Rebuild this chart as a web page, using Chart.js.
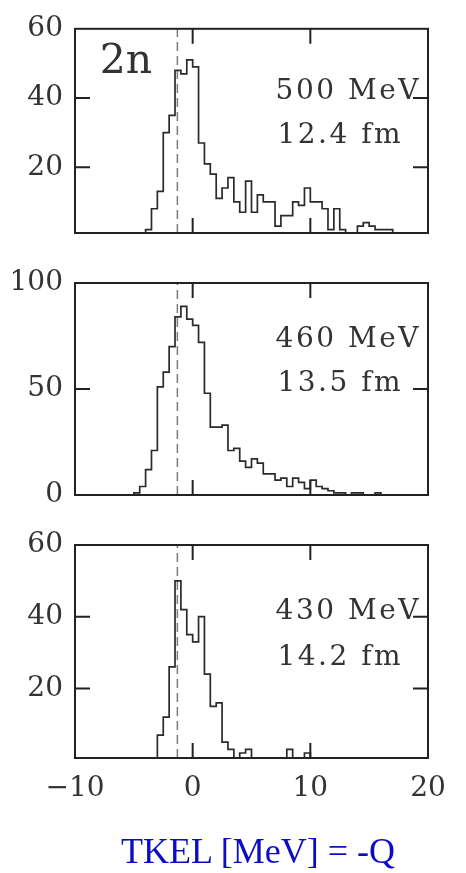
<!DOCTYPE html>
<html>
<head>
<meta charset="utf-8">
<script src="https://cdn.jsdelivr.net/npm/chart.js@4.4.1/dist/chart.umd.min.js"></script>
<style>
  html, body { margin: 0; padding: 0; background: #fff; }
  #wrap { position: relative; width: 466px; height: 873px; overflow: hidden; }
  #wrap canvas { position: absolute; left: 0; top: 0; }
  #xtitle {
    position: absolute; top: 833px; left: 258px; transform: translateX(-50%);
    white-space: nowrap; font: 36px/36px "Liberation Serif", serif; color: #0c0cc8;
  }
</style>
</head>
<body>
<div id="wrap">
  <canvas id="c500" width="466" height="873"></canvas>
  <canvas id="c460" width="466" height="873"></canvas>
  <canvas id="c430" width="466" height="873"></canvas>
  <div id="xtitle">TKEL [MeV] = -Q</div>
</div>
<script>
// TKEL histograms, 0.5 MeV bins
const binWidth = 0.5;
const xTicks = [-10, 0, 10, 20];
const refLineAt = -1.3;

// 500 MeV, 12.4 fm
const start500 = -4;
const counts500 = [2, 8, 13, 30, 35, 48, 47, 51, 49, 27, 21, 18, 11, 14, 17, 10, 7, 16, 7, 12,
                   10, 10, 3, 6, 6, 10, 9, 14, 10, 10, 8, 2, 8, 2, 0, 0, 3, 4, 3, 2, 2, 2];
const yTicks500 = [20, 40, 60];
const text500 = ['2n', '500 MeV', '12.4 fm'];

// 460 MeV, 13.5 fm
const start460 = -5;
const counts460 = [1, 4, 12, 21, 51, 58, 70, 84, 89, 83, 80, 72, 48, 32, 32, 33, 21, 22, 16, 13,
                   17, 15, 10, 10, 7, 8, 4, 8, 6, 3, 7, 4, 3, 2, 1, 1, 0, 1, 1, 0, 0, 1];
const yTicks460 = [0, 50, 100];
const text460 = ['460 MeV', '13.5 fm'];

// 430 MeV, 14.2 fm
const start430 = -3;
const counts430 = [7, 12, 26, 50, 42, 35, 33, 40, 24, 15, 16, 5, 3, 0, 2, 3, 0, 0, 0, 0,
                   0, 0, 3, 0, 0, 2];
const yTicks430 = [20, 40, 60];
const text430 = ['430 MeV', '14.2 fm'];

const H = 873;
const serif = '"DejaVu Serif", serif';
const ink = '#333';

function histPoints(start, counts) {
  const pts = [{ x: start, y: 0 }];
  counts.forEach((c, i) => {
    const lo = start + i * binWidth;
    pts.push({ x: lo, y: c }, { x: lo + binWidth, y: c });
  });
  pts.push({ x: start + counts.length * binWidth, y: 0 });
  return pts;
}

// box around the plot, inward ticks on all four sides, and the text labels
const frame = {
  id: 'frame',
  afterDatasetsDraw(chart, args, opts) {
    const { ctx, chartArea: a, scales: { x, y } } = chart;
    const len = 15;
    ctx.save();
    ctx.strokeStyle = '#222';
    ctx.lineWidth = 2;
    ctx.strokeRect(a.left, a.top, a.width, a.height);
    ctx.beginPath();
    x.ticks.forEach(t => {
      const px = x.getPixelForValue(t.value);
      if (px <= a.left + 1 || px >= a.right - 1) return;
      ctx.moveTo(px, a.bottom); ctx.lineTo(px, a.bottom - len);
      ctx.moveTo(px, a.top); ctx.lineTo(px, a.top + len);
    });
    y.ticks.forEach(t => {
      const py = y.getPixelForValue(t.value);
      if (py <= a.top + 1 || py >= a.bottom - 1) return;
      ctx.moveTo(a.left, py); ctx.lineTo(a.left + len, py);
      ctx.moveTo(a.right, py); ctx.lineTo(a.right - len, py);
    });
    ctx.stroke();

    ctx.fillStyle = ink;
    ctx.textAlign = 'left';
    ctx.textBaseline = 'alphabetic';
    (opts.notes || []).forEach(n => {
      ctx.font = n.size + 'px ' + serif;
      ctx.letterSpacing = (n.spacing || 0) + 'px';
      ctx.fillText(n.text, x.getPixelForValue(n.x), y.getPixelForValue(n.y));
    });
    ctx.letterSpacing = '0px';
    ctx.restore();
  }
};

const panels = [
  { id: 'c500', top: 22, bottom: 233, yMin: 1, yMax: 60, yTicks: yTicks500,
    start: start500, counts: counts500, showX: false,
    notes: [
      { text: text500[0], x: -7.9, y: 47.2, size: 41 },
      { text: text500[1], x: 7.05, y: 39.6, size: 28, spacing: 2.5 },
      { text: text500[2], x: 7.2, y: 27.0, size: 28, spacing: 2.5 }
    ] },
  { id: 'c460', top: 283, bottom: 495, yMin: 0, yMax: 100, yTicks: yTicks460,
    start: start460, counts: counts460, showX: false,
    notes: [
      { text: text460[0], x: 7.05, y: 69.7, size: 28, spacing: 2.5 },
      { text: text460[1], x: 7.2, y: 49.1, size: 28, spacing: 2.5 }
    ] },
  { id: 'c430', top: 545, bottom: 758, yMin: 0.6, yMax: 60, yTicks: yTicks430,
    start: start430, counts: counts430, showX: true,
    notes: [
      { text: text430[0], x: 7.05, y: 39.3, size: 28, spacing: 2.5 },
      { text: text430[1], x: 7.2, y: 26.5, size: 28, spacing: 2.5 }
    ] }
];

panels.forEach(p => {
  new Chart(document.getElementById(p.id), {
    type: 'line',
    data: {
      datasets: [
        {
          data: histPoints(p.start, p.counts),
          borderColor: '#2a2a2a',
          borderWidth: 1.7,
          pointRadius: 0,
          tension: 0,
          fill: false
        },
        {
          data: [{ x: refLineAt, y: p.yMin }, { x: refLineAt, y: p.yMax }],
          borderColor: '#7c7c7c',
          borderWidth: 1.5,
          borderDash: [9, 5],
          pointRadius: 0,
          fill: false
        }
      ]
    },
    options: {
      responsive: false,
      animation: false,
      events: [],
      layout: { padding: { left: 0, right: 38, top: p.top, bottom: 0 } },
      plugins: {
        legend: { display: false },
        tooltip: { enabled: false },
        frame: { notes: p.notes }
      },
      scales: {
        x: {
          type: 'linear',
          min: -10,
          max: 20,
          afterBuildTicks: ax => { ax.ticks = xTicks.map(v => ({ value: v })); },
          afterFit: s => { s.height = H - p.bottom; },
          grid: { display: false, drawTicks: false },
          border: { display: false },
          ticks: {
            display: p.showX,
            padding: 14,
            color: ink,
            font: { family: serif, size: 28 },
            callback: v => v < 0 ? '\u2212' + Math.abs(v) : String(v)
          }
        },
        y: {
          min: p.yMin,
          max: p.yMax,
          afterBuildTicks: ax => { ax.ticks = p.yTicks.map(v => ({ value: v })); },
          afterFit: s => { s.width = 75; },
          grid: { display: false, drawTicks: false },
          border: { display: false },
          ticks: {
            padding: 12,
            color: ink,
            font: { family: serif, size: 28 },
            callback: v => String(v)
          }
        }
      }
    },
    plugins: [frame]
  });
});
</script>
</body>
</html>
